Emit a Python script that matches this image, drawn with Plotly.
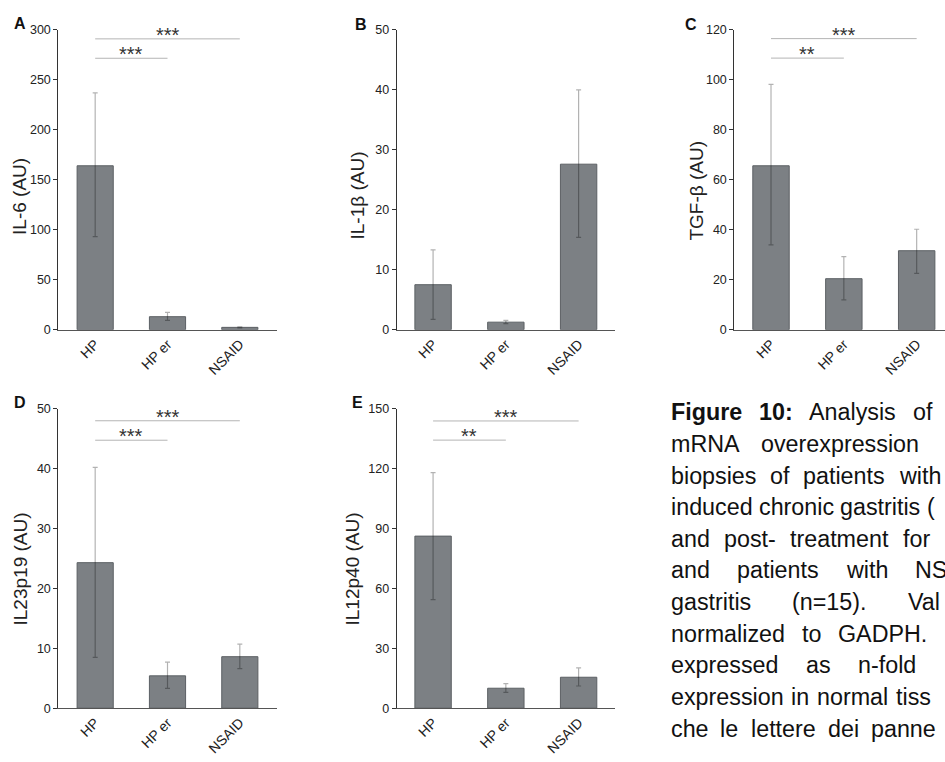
import plotly.graph_objects as go

W, H = 945, 762

categories = ["HP", "HP er", "NSAID"]

il6_mean = [164, 13.0, 2.3]
il6_plus = [73, 4.3, 0.5]
il6_minus = [71, 3.8, 0.5]

il1b_mean = [7.5, 1.25, 27.6]
il1b_plus = [5.8, 0.3, 12.4]
il1b_minus = [5.8, 0.25, 12.2]

tgfb_mean = [65.6, 20.4, 31.6]
tgfb_plus = [32.6, 8.8, 8.6]
tgfb_minus = [31.7, 8.5, 9.1]

il23_mean = [24.3, 5.4, 8.6]
il23_plus = [15.9, 2.3, 2.1]
il23_minus = [15.8, 2.1, 2.0]

il12_mean = [86.2, 10.0, 15.5]
il12_plus = [31.8, 2.3, 4.7]
il12_minus = [31.8, 2.1, 4.4]

y_titles = ["IL-6 (AU)", "IL-1β (AU)", "TGF-β (AU)", "IL23p19 (AU)", "IL12p40 (AU)"]
panel_letters = ["A", "B", "C", "D", "E"]
y_ticks = [
    [0, 50, 100, 150, 200, 250, 300],
    [0, 10, 20, 30, 40, 50],
    [0, 20, 40, 60, 80, 100, 120],
    [0, 10, 20, 30, 40, 50],
    [0, 30, 60, 90, 120, 150],
]
# significance brackets: (from index, to index, y value, label)
sig_A = [(0, 2, 291, "***"), (0, 1, 271.6, "***")]
sig_B = []
sig_C = [(0, 2, 116.5, "***"), (0, 1, 108.7, "**")]
sig_D = [(0, 2, 48.0, "***"), (0, 1, 44.75, "***")]
sig_E = [(0, 2, 143.9, "***"), (0, 1, 134.3, "**")]

# caption text as visible in the (cropped) reference; bold words marked
caption_lines = [
    ["*Figure", "*10:", "Analysis", "of"],
    ["mRNA", "overexpression"],
    ["biopsies", "of", "patients", "with"],
    ["induced", "chronic", "gastritis", "("],
    ["and", "post-", "treatment", "for"],
    ["and", "patients", "with", "NS"],
    ["gastritis", "(n=15).", "Val"],
    ["normalized", "to", "GADPH."],
    ["expressed", "as", "n-fold"],
    ["expression", "in", "normal", "tiss"],
    ["che", "le", "lettere", "dei", "panne"],
]
# justification gap (px) between words of each caption line
caption_gaps = [17, 21.5, 14, 6.5, 14.6, 27.7, 41.6, 17.3, 27.9, 8, 12.3]

panels = [
    dict(mean=il6_mean, plus=il6_plus, minus=il6_minus, sig=sig_A, ymax=300,
         px=(58.3, 276.7), py=(23.3, 328.7), xr=(-0.51, 2.51),
         title_c=(19.5, 193), letter_c=(20, 16.7)),
    dict(mean=il1b_mean, plus=il1b_plus, minus=il1b_minus, sig=sig_B, ymax=50,
         px=(396.7, 615), py=(23.3, 328.7), xr=(-0.5, 2.5),
         title_c=(357, 192), letter_c=(360.5, 17.7)),
    dict(mean=tgfb_mean, plus=tgfb_plus, minus=tgfb_minus, sig=sig_C, ymax=120,
         px=(734.3, 945), py=(23.3, 328.7), xr=(-0.504, 2.389),
         title_c=(697, 187), letter_c=(690.5, 18)),
    dict(mean=il23_mean, plus=il23_plus, minus=il23_minus, sig=sig_D, ymax=50,
         px=(58.3, 276.7), py=(409.3, 714.3), xr=(-0.51, 2.51),
         title_c=(20, 573), letter_c=(19.5, 403)),
    dict(mean=il12_mean, plus=il12_plus, minus=il12_minus, sig=sig_E, ymax=150,
         px=(396.7, 615), py=(409.3, 714.3), xr=(-0.5, 2.5),
         title_c=(352, 573), letter_c=(357.5, 403)),
]

AX_FONT = "Liberation Sans, Arial, sans-serif"
CAP_FONT = "Liberation Sans, Arial, sans-serif"
BAR_COLOR = "#7c8084"
BAR_LINE = "#5c6064"
ERR_COLOR = "rgba(0,0,0,0.30)"
SIG_COLOR = "#b4b4b4"

# Arial / Liberation Sans advance widths (per 1000 em) for caption layout
REG = dict(a=556, b=556, c=500, d=556, e=556, f=278, g=556, h=556, i=222, j=222,
           k=500, l=222, m=833, n=556, o=556, p=556, q=556, r=333, s=500, t=278,
           u=556, v=500, w=722, x=500, y=500, z=500,
           A=667, D=722, G=778, H=722, N=722, P=667, R=722, S=667, V=667)
REG.update({"(": 333, ")": 333, ".": 278, ":": 278, "-": 333, "=": 584})
REG.update({str(d): 556 for d in range(10)})
BOLD = dict(F=611, i=278, g=611, u=611, r=389, e=556)
BOLD.update({"1": 556, "0": 556, ":": 333})


def text_width(word, size, bold=False):
    tab = BOLD if bold else REG
    return sum(tab.get(ch, 556) for ch in word) * size / 1000.0


def fx(px):
    return px / W


def fy(py):
    return 1 - py / H


fig = go.Figure()
layout = dict(
    width=W, height=H, margin=dict(l=0, r=0, t=0, b=0),
    paper_bgcolor="white", plot_bgcolor="white", showlegend=False,
    font=dict(family=AX_FONT, color="#222"),
)
annotations = []

for i, p in enumerate(panels):
    n = i + 1
    xa = "x" if n == 1 else f"x{n}"
    ya = "y" if n == 1 else f"y{n}"
    fig.add_trace(go.Bar(
        x=categories, y=p["mean"], xaxis=xa, yaxis=ya, width=0.5,
        marker=dict(color=BAR_COLOR, line=dict(color=BAR_LINE, width=1)),
        error_y=dict(type="data", symmetric=False, array=p["plus"],
                     arrayminus=p["minus"], color=ERR_COLOR, thickness=1.2, width=2.5),
        hoverinfo="skip",
    ))
    for (a, b, v, lab) in p["sig"]:
        fig.add_trace(go.Scatter(
            x=[categories[a], categories[b]], y=[v, v], xaxis=xa, yaxis=ya,
            mode="lines", line=dict(color=SIG_COLOR, width=1), hoverinfo="skip",
        ))
        annotations.append(dict(
            x=(a + b) / 2, y=v, xref=xa, yref=ya, text=lab, showarrow=False,
            xanchor="center", yanchor="bottom", yshift=-9,
            font=dict(family=AX_FONT, size=20, color="#333"),
        ))
    xkey = "xaxis" if n == 1 else f"xaxis{n}"
    ykey = "yaxis" if n == 1 else f"yaxis{n}"
    layout[xkey] = dict(
        domain=[fx(p["px"][0]), min(1.0, fx(p["px"][1]))], anchor=ya,
        range=list(p["xr"]), type="category", tickangle=-45,
        showline=True, linecolor="#555", linewidth=1, ticks="",
        showgrid=False, zeroline=False, fixedrange=True,
        tickfont=dict(family=AX_FONT, size=14, color="#222"),
    )
    layout[ykey] = dict(
        domain=[fy(p["py"][1]), fy(p["py"][0])], anchor=xa,
        range=[0, p["ymax"]], tickvals=y_ticks[i],
        showline=True, linecolor="#333", linewidth=1,
        ticks="outside", ticklen=4, tickcolor="#333", tickwidth=1,
        showgrid=False, zeroline=False, fixedrange=True,
        tickfont=dict(family=AX_FONT, size=12.5, color="#222"),
    )
    annotations.append(dict(
        x=fx(p["title_c"][0]), y=fy(p["title_c"][1]), xref="paper", yref="paper",
        text=y_titles[i], textangle=-90, showarrow=False,
        xanchor="center", yanchor="middle",
        font=dict(family=AX_FONT, size=19, color="#222"),
    ))
    annotations.append(dict(
        x=fx(p["letter_c"][0]), y=fy(p["letter_c"][1]), xref="paper", yref="paper",
        text=f"<b>{panel_letters[i]}</b>", showarrow=False,
        xanchor="center", yanchor="middle",
        font=dict(family=AX_FONT, size=16, color="#111"),
    ))

# caption: justified text, cropped at the page edge as in the reference
x0, base0, lead, cap_size = 669.5, 420.7, 32.2, 23.3
for k, words in enumerate(caption_lines):
    baseline = base0 + k * lead
    xpos = x0
    for w in words:
        bold = w.startswith("*")
        txt = w[1:] if bold else w
        annotations.append(dict(
            x=fx(xpos - 1), y=fy(baseline - 0.33 * cap_size), xref="paper", yref="paper",
            text=f"<b>{txt}</b>" if bold else txt, showarrow=False,
            xanchor="left", yanchor="middle",
            font=dict(family=CAP_FONT, size=cap_size, color="#111"),
        ))
        xpos += text_width(txt, cap_size, bold) + caption_gaps[k]

layout["annotations"] = annotations
fig.update_layout(**layout)
fig.write_html("out.html", config={"displayModeBar": False})
